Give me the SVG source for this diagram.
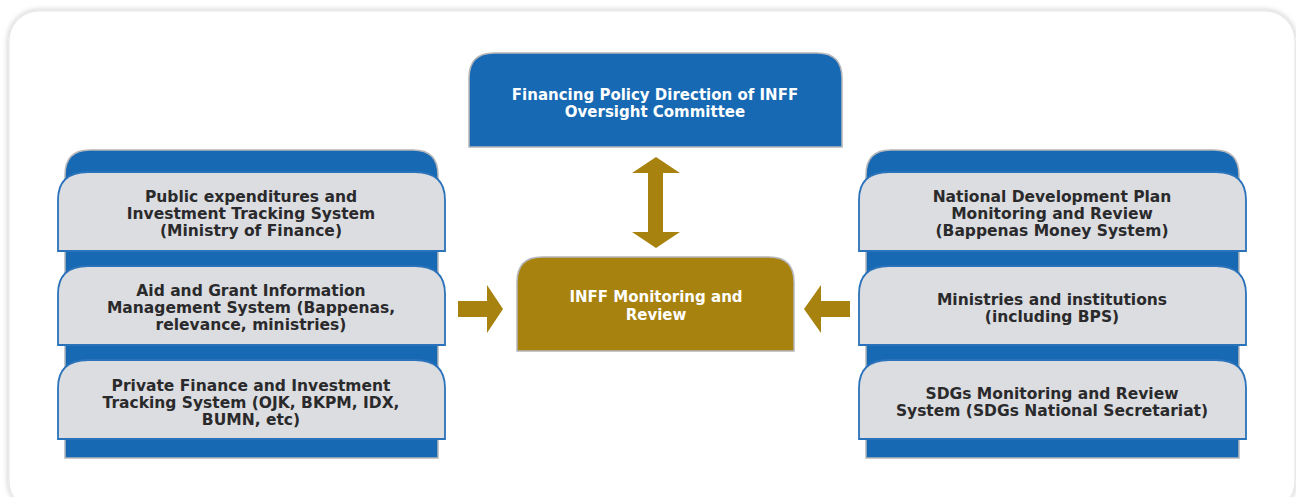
<svg xmlns="http://www.w3.org/2000/svg" width="1296" height="497" viewBox="0 0 1296 497">
<defs>
<filter id="sh" x="-5%" y="-5%" width="110%" height="110%">
<feGaussianBlur in="SourceAlpha" stdDeviation="3"/>
<feOffset dx="0" dy="0"/>
<feComponentTransfer><feFuncA type="linear" slope="0.25"/></feComponentTransfer>
<feMerge><feMergeNode/><feMergeNode in="SourceGraphic"/></feMerge>
</filter>
<style>
.panel{fill:#1769b3;stroke:#b4b6ba;stroke-width:1.5}
.card{fill:#dcdde0;stroke:#2a72ba;stroke-width:1.8}
.t{font-family:"DejaVu Sans","Open Sans",sans-serif;font-weight:700;font-size:15.5px;fill:#2a2a2c;text-anchor:middle}
.w{font-family:"DejaVu Sans","Open Sans",sans-serif;font-weight:700;font-size:15px;fill:#ffffff;text-anchor:middle}
.arr{fill:#a8820e}
</style>
</defs>
<rect width="1296" height="497" fill="#ffffff"/>
<rect x="9" y="11" width="1286" height="500" rx="30" ry="30" fill="#ffffff" stroke="#e6e6e6" stroke-width="1" filter="url(#sh)"/>

<g id="left-panel">
<path class="panel" d="M65,458 V175 Q65,150 90,150 H413 Q438,150 438,175 V458 Z"/>
</g>
<g id="node-public">
<path class="card" d="M58,251 V200 Q58,172 88,172 H415 Q445,172 445,200 V251 Z"/>
<text class="t" x="251" y="202">Public expenditures and</text>
<text class="t" x="251" y="219">Investment Tracking System</text>
<text class="t" x="251" y="236">(Ministry of Finance)</text>
</g>
<g id="node-aid">
<path class="card" d="M58,345 V294 Q58,266 88,266 H415 Q445,266 445,294 V345 Z"/>
<text class="t" x="251" y="296">Aid and Grant Information</text>
<text class="t" x="251" y="313">Management System (Bappenas,</text>
<text class="t" x="251" y="330">relevance, ministries)</text>
</g>
<g id="node-private">
<path class="card" d="M58,439 V388 Q58,360 88,360 H415 Q445,360 445,388 V439 Z"/>
<text class="t" x="251" y="391">Private Finance and Investment</text>
<text class="t" x="251" y="408">Tracking System (OJK, BKPM, IDX,</text>
<text class="t" x="251" y="425">BUMN, etc)</text>
</g>

<g id="right-panel">
<path class="panel" d="M866,458 V175 Q866,150 891,150 H1214 Q1239,150 1239,175 V458 Z"/>
</g>
<g id="node-national">
<path class="card" d="M859,251 V200 Q859,172 889,172 H1216 Q1246,172 1246,200 V251 Z"/>
<text class="t" x="1052" y="202">National Development Plan</text>
<text class="t" x="1052" y="219">Monitoring and Review</text>
<text class="t" x="1052" y="236">(Bappenas Money System)</text>
</g>
<g id="node-ministries">
<path class="card" d="M859,345 V294 Q859,266 889,266 H1216 Q1246,266 1246,294 V345 Z"/>
<text class="t" x="1052" y="305">Ministries and institutions</text>
<text class="t" x="1052" y="322">(including BPS)</text>
</g>
<g id="node-sdgs">
<path class="card" d="M859,439 V388 Q859,360 889,360 H1216 Q1246,360 1246,388 V439 Z"/>
<text class="t" x="1052" y="399">SDGs Monitoring and Review</text>
<text class="t" x="1052" y="416">System (SDGs National Secretariat)</text>
</g>

<g id="node-oversight">
<path d="M469,147 V78 Q469,53 494,53 H817 Q842,53 842,78 V147 Z" fill="#1769b3" stroke="#b4b6ba" stroke-width="1.5"/>
<text class="w" x="655" y="100">Financing Policy Direction of INFF</text>
<text class="w" x="655" y="117">Oversight Committee</text>
</g>

<g id="node-inff">
<path d="M517,351 V282 Q517,257 542,257 H769 Q794,257 794,282 V351 Z" fill="#a8820e" stroke="#b4b6ba" stroke-width="1.5"/>
<text class="w" x="656" y="302">INFF Monitoring and</text>
<text class="w" x="656" y="320">Review</text>
</g>

<g id="connectors">
<polygon class="arr" points="656,157 680,173 663,173 663,232 680,232 656,248 632,232 648,232 648,173 632,173"/>
<polygon class="arr" points="458,301 487,301 487,285 503,309 487,333 487,317 458,317"/>
<polygon class="arr" points="850,301 821,301 821,285 804,309 821,333 821,317 850,317"/>
</g>
</svg>
